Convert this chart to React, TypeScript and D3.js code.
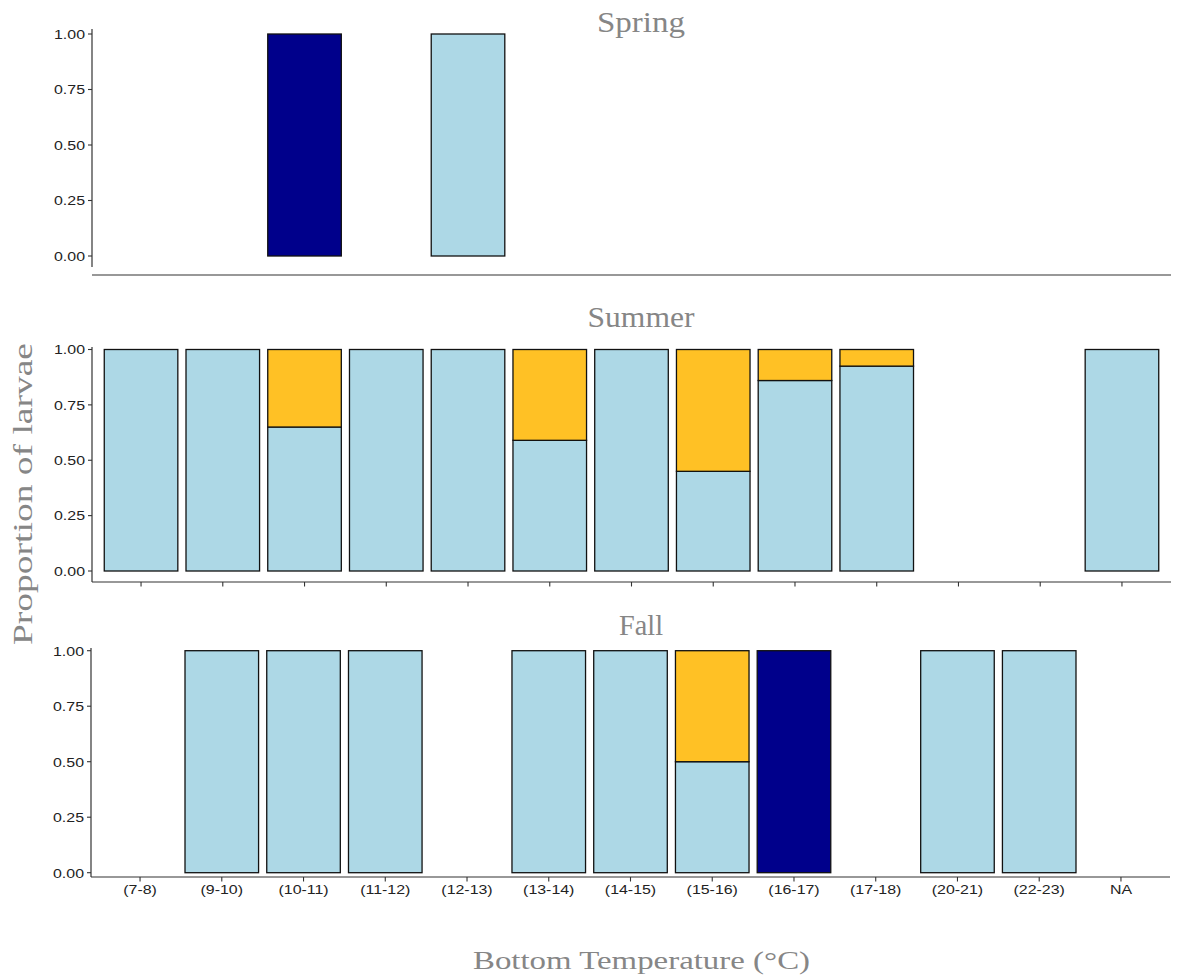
import React from "react";
import * as d3 from "d3";

// Temperature bins on the x axis
const categories = [
  "(7-8)", "(9-10)", "(10-11)", "(11-12)", "(12-13)", "(13-14)", "(14-15)",
  "(15-16)", "(16-17)", "(17-18)", "(20-21)", "(22-23)", "NA",
];

const seasons = ["Spring", "Summer", "Fall"];

// Proportion of larvae per bin, one array per group and season
const springLight = [0, 0, 0, 0, 1, 0, 0, 0, 0, 0, 0, 0, 0];
const springGold = [0, 0, 0, 0, 0, 0, 0, 0, 0, 0, 0, 0, 0];
const springDark = [0, 0, 1, 0, 0, 0, 0, 0, 0, 0, 0, 0, 0];

const summerLight = [1, 1, 0.65, 1, 1, 0.59, 1, 0.45, 0.86, 0.925, 0, 0, 1];
const summerGold = [0, 0, 0.35, 0, 0, 0.41, 0, 0.55, 0.14, 0.075, 0, 0, 0];
const summerDark = [0, 0, 0, 0, 0, 0, 0, 0, 0, 0, 0, 0, 0];

const fallLight = [0, 1, 1, 1, 0, 1, 1, 0.5, 0, 0, 1, 1, 0];
const fallGold = [0, 0, 0, 0, 0, 0, 0, 0.5, 0, 0, 0, 0, 0];
const fallDark = [0, 0, 0, 0, 0, 0, 0, 0, 1, 0, 0, 0, 0];

const yTicks = [0, 0.25, 0.5, 0.75, 1];

const groupKeys = ["light", "gold", "dark"];
const groupColors: Record<string, string> = {
  light: "#ADD8E6",
  gold: "#FFC125",
  dark: "#00008B",
};

const seasonData: Record<string, { light: number[]; gold: number[]; dark: number[] }> = {
  Spring: { light: springLight, gold: springGold, dark: springDark },
  Summer: { light: summerLight, gold: summerGold, dark: summerDark },
  Fall: { light: fallLight, gold: fallGold, dark: fallDark },
};

// Panel geometry
const panels: Record<string, any> = {
  Spring: { y1: 34, y0: 256, axTop: 29, axBottom: 267, xAxisY: 275, x0: 92, x1: 1171, ticks: false, labels: false, titleY: 32, titleW: 88 },
  Summer: { y1: 349.5, y0: 571, axTop: 347, axBottom: 582, xAxisY: 582, x0: 92, x1: 1171, ticks: true, labels: false, titleY: 327, titleW: 107 },
  Fall: { y1: 650.7, y0: 872.7, axTop: 648, axBottom: 877, xAxisY: 877, x0: 91, x1: 1170, ticks: true, labels: true, titleY: 635, titleW: 44 },
};

const axisColor = "#333333";
const serif = "'Liberation Serif', 'DejaVu Serif', serif";
const sans = "'Liberation Sans', Arial, sans-serif";
const titleColor = "#868686";

function Panel({ season }: { season: string }) {
  const p = panels[season];
  const d = seasonData[season];
  const x = d3.scaleBand<string>().domain(categories).range([p.x0, p.x1]).paddingInner(0.1).paddingOuter(0.15);
  const y = d3.scaleLinear().domain([0, 1]).range([p.y0, p.y1]);
  const rows = categories.map((c, i) => ({ cat: c, light: d.light[i], gold: d.gold[i], dark: d.dark[i] }));
  const stacked = d3.stack<any>().keys(groupKeys)(rows);
  const fmt = d3.format(".2f");

  return (
    <g>
      <text
        x={641}
        y={p.titleY}
        textAnchor="middle"
        fontFamily={serif}
        fontSize={29}
        fill={titleColor}
        textLength={p.titleW}
        lengthAdjust="spacingAndGlyphs"
      >
        {season}
      </text>
      {stacked.map((layer) =>
        layer.map((seg, i) => {
          const h = y(seg[0]) - y(seg[1]);
          if (h <= 0) return null;
          return (
            <rect
              key={layer.key + i}
              x={x(categories[i])}
              y={y(seg[1])}
              width={x.bandwidth()}
              height={h}
              fill={groupColors[layer.key]}
              stroke="#111"
              strokeWidth={1.3}
            />
          );
        })
      )}
      {/* y axis */}
      <line x1={p.x0} x2={p.x0} y1={p.axTop} y2={p.axBottom} stroke={axisColor} strokeWidth={1.2} />
      {yTicks.map((t) => (
        <g key={t}>
          <line x1={p.x0 - 4} x2={p.x0} y1={y(t)} y2={y(t)} stroke={axisColor} strokeWidth={1.1} />
          <text
            transform={`translate(${p.x0 - 7},${y(t) + 4.8}) scale(1.18,1)`}
            textAnchor="end"
            fontFamily={sans}
            fontSize={13.5}
            fill="#222"
          >
            {fmt(t)}
          </text>
        </g>
      ))}
      {/* x axis */}
      <line x1={p.x0} x2={p.x1} y1={p.xAxisY} y2={p.xAxisY} stroke={axisColor} strokeWidth={1.2} />
      {p.ticks &&
        categories.map((c) => (
          <line
            key={c}
            x1={x(c)! + x.bandwidth() / 2}
            x2={x(c)! + x.bandwidth() / 2}
            y1={p.xAxisY}
            y2={p.xAxisY + 4.5}
            stroke={axisColor}
            strokeWidth={1.1}
          />
        ))}
      {p.labels &&
        categories.map((c) => (
          <text
            key={c}
            transform={`translate(${x(c)! + x.bandwidth() / 2},${p.xAxisY + 16.5}) scale(1.18,1)`}
            textAnchor="middle"
            fontFamily={sans}
            fontSize={13.5}
            fill="#222"
          >
            {c}
          </text>
        ))}
    </g>
  );
}

export default function App() {
  return (
    <svg
      width={1178}
      height={979}
      style={{ position: "absolute", left: 0, top: 0, display: "block", background: "#fff" }}
    >
      <rect x={0} y={0} width={1178} height={979} fill="#fff" />
      {seasons.map((s) => (
        <Panel key={s} season={s} />
      ))}
      <text
        transform="translate(32,494) rotate(-90)"
        textAnchor="middle"
        fontFamily={serif}
        fontSize={28}
        fill={titleColor}
        textLength={302}
        lengthAdjust="spacingAndGlyphs"
      >
        Proportion of larvae
      </text>
      <text
        x={641.5}
        y={969}
        textAnchor="middle"
        fontFamily={serif}
        fontSize={26}
        fill={titleColor}
        textLength={337}
        lengthAdjust="spacingAndGlyphs"
      >
        Bottom Temperature (°C)
      </text>
    </svg>
  );
}
